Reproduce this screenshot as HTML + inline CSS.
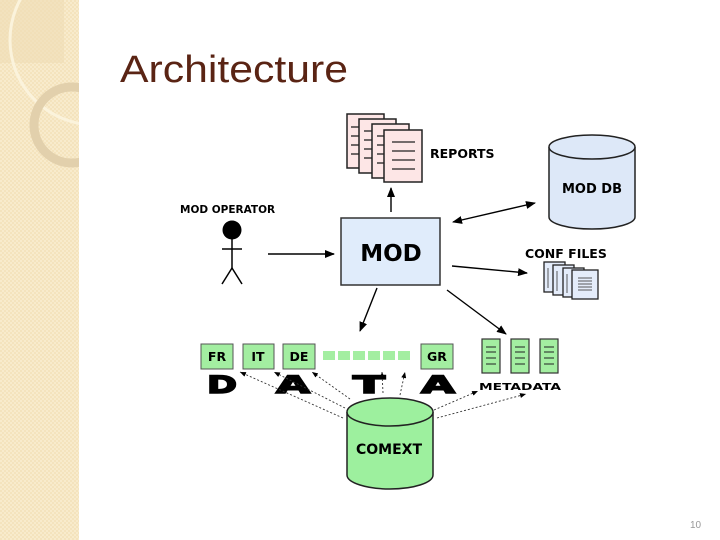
<!DOCTYPE html>
<html><head><meta charset="utf-8"><style>
html,body{margin:0;padding:0;background:#fff;}
svg{display:block;}
text{font-family:"DejaVu Sans","Liberation Sans",sans-serif;font-weight:bold;}
</style></head><body>
<svg width="720" height="540" viewBox="0 0 720 540" xmlns="http://www.w3.org/2000/svg">
<defs>
<pattern id="chk" width="4" height="4" patternUnits="userSpaceOnUse">
<rect width="4" height="4" fill="#f4e3bd"/><rect width="2" height="2" fill="#f8ebcc"/><rect x="2" y="2" width="2" height="2" fill="#f8ebcc"/>
</pattern>
<marker id="ah" markerWidth="10" markerHeight="8" refX="9" refY="4" orient="auto" markerUnits="userSpaceOnUse"><path d="M0,0 L10,4 L0,8 Z" fill="#000"/></marker>
<marker id="ahs" markerWidth="10" markerHeight="8" refX="1" refY="4" orient="auto" markerUnits="userSpaceOnUse"><path d="M10,0 L0,4 L10,8 Z" fill="#000"/></marker>
<marker id="ad" markerWidth="6" markerHeight="5" refX="6" refY="2.5" orient="auto" markerUnits="userSpaceOnUse"><path d="M0,0 L6,2.5 L0,5 Z" fill="#000"/></marker>
<clipPath id="side"><rect width="79" height="540"/></clipPath>
</defs>
<rect x="0" y="0" width="79" height="540" fill="url(#chk)"/>
<g clip-path="url(#side)">
<rect x="0" y="0" width="64" height="63" fill="#efdcb4" opacity="0.6"/>
<circle cx="95" cy="40" r="85" fill="none" stroke="#fbf3dc" stroke-width="3"/>
<circle cx="72" cy="125" r="38" fill="none" stroke="#e2d0ac" stroke-width="9"/>
</g>
<text x="120" y="82" font-size="38" fill="#5a2414" textLength="228" lengthAdjust="spacingAndGlyphs" style="font-family:'Liberation Sans',sans-serif;font-weight:normal">Architecture</text>

<!-- reports -->
<g stroke="#222" stroke-width="1.5" fill="#fde6e6">
<rect x="347" y="114" width="37" height="54"/>
<rect x="359" y="119" width="37" height="54"/>
<rect x="372" y="124" width="37" height="54"/>
<rect x="384" y="130" width="38" height="52"/>
</g>
<g stroke="#222" stroke-width="1.3">
<line x1="351" y1="127" x2="359" y2="127"/><line x1="351" y1="136" x2="359" y2="136"/><line x1="351" y1="145" x2="359" y2="145"/><line x1="351" y1="154" x2="359" y2="154"/>
<line x1="364" y1="131" x2="372" y2="131"/><line x1="364" y1="140" x2="372" y2="140"/><line x1="364" y1="149" x2="372" y2="149"/><line x1="364" y1="158" x2="372" y2="158"/>
<line x1="377" y1="136" x2="384" y2="136"/><line x1="377" y1="145" x2="384" y2="145"/><line x1="377" y1="154" x2="384" y2="154"/><line x1="377" y1="163" x2="384" y2="163"/>
<line x1="392" y1="142" x2="415" y2="142"/><line x1="392" y1="151" x2="415" y2="151"/><line x1="392" y1="160" x2="415" y2="160"/><line x1="392" y1="169" x2="415" y2="169"/>
</g>
<text x="430" y="158" font-size="12.5">REPORTS</text>

<!-- MOD DB -->
<path d="M549,147 L549,217 A43,12 0 0 0 635,217 L635,147" fill="#dde8f8" stroke="#222" stroke-width="1.5"/>
<ellipse cx="592" cy="147" rx="43" ry="12" fill="#dde8f8" stroke="#222" stroke-width="1.5"/>
<text x="592" y="193" font-size="13" text-anchor="middle">MOD DB</text>

<!-- MOD -->
<rect x="341" y="218" width="99" height="67" fill="#e0ecfb" stroke="#333" stroke-width="1.5"/>
<text x="391" y="261" font-size="23" text-anchor="middle">MOD</text>

<!-- operator -->
<text x="180" y="213" font-size="10.5">MOD OPERATOR</text>
<circle cx="232" cy="230" r="9.5" fill="#000"/>
<g stroke="#000" stroke-width="1.5" fill="none">
<line x1="232" y1="238" x2="232" y2="268"/><line x1="222" y1="249" x2="242" y2="249"/>
<polyline points="222,284 232,268 242,284"/>
</g>

<!-- arrows -->
<g stroke="#000" stroke-width="1.4" fill="none">
<line x1="268" y1="254" x2="334" y2="254" marker-end="url(#ah)"/>
<line x1="391" y1="212" x2="391" y2="188" marker-end="url(#ah)"/>
<line x1="453" y1="222" x2="535" y2="203" marker-start="url(#ahs)" marker-end="url(#ah)"/>
<line x1="452" y1="266" x2="527" y2="273" marker-end="url(#ah)"/>
<line x1="377" y1="288" x2="360" y2="331" marker-end="url(#ah)"/>
<line x1="447" y1="290" x2="506" y2="334" marker-end="url(#ah)"/>
</g>

<!-- conf files -->
<text x="525" y="258" font-size="12.5">CONF FILES</text>
<g stroke="#222" stroke-width="1.3" fill="#e4ecfa">
<rect x="544" y="262" width="21" height="30"/>
<rect x="553" y="265" width="21" height="30"/>
<rect x="563" y="268" width="21" height="29"/>
<rect x="572" y="270" width="26" height="29"/>
</g>
<g stroke="#333" stroke-width="0.8">
<line x1="548" y1="268" x2="548" y2="288"/><line x1="557" y1="271" x2="557" y2="291"/><line x1="567" y1="274" x2="567" y2="293"/>
<line x1="578" y1="278" x2="592" y2="278"/><line x1="578" y1="281" x2="592" y2="281"/><line x1="578" y1="284" x2="592" y2="284"/><line x1="578" y1="287" x2="592" y2="287"/><line x1="578" y1="290" x2="592" y2="290"/>
</g>

<!-- data boxes -->
<g fill="#a3eea1" stroke="#555" stroke-width="1">
<rect x="201" y="344" width="32" height="25"/>
<rect x="243" y="344" width="31" height="25"/>
<rect x="283" y="344" width="32" height="25"/>
<rect x="421" y="344" width="32" height="25"/>
</g>
<g fill="#a3eea1">
<rect x="323" y="351" width="12" height="9"/><rect x="338" y="351" width="12" height="9"/><rect x="353" y="351" width="12" height="9"/><rect x="368" y="351" width="12" height="9"/><rect x="383" y="351" width="12" height="9"/><rect x="398" y="351" width="12" height="9"/>
</g>
<g font-size="12.5" text-anchor="middle">
<text x="217" y="361">FR</text><text x="258" y="361">IT</text><text x="299" y="361">DE</text><text x="437" y="361">GR</text>
</g>
<g fill="#a3eea1" stroke="#333" stroke-width="1.2">
<rect x="482" y="339" width="18" height="34"/><rect x="511" y="339" width="18" height="34"/><rect x="540" y="339" width="18" height="34"/>
</g>
<g stroke="#222" stroke-width="1">
<line x1="486" y1="347" x2="496" y2="347"/><line x1="486" y1="352" x2="496" y2="352"/><line x1="486" y1="358" x2="496" y2="358"/><line x1="486" y1="364" x2="496" y2="364"/>
<line x1="515" y1="347" x2="525" y2="347"/><line x1="515" y1="352" x2="525" y2="352"/><line x1="515" y1="358" x2="525" y2="358"/><line x1="515" y1="364" x2="525" y2="364"/>
<line x1="544" y1="347" x2="554" y2="347"/><line x1="544" y1="352" x2="554" y2="352"/><line x1="544" y1="358" x2="554" y2="358"/><line x1="544" y1="364" x2="554" y2="364"/>
</g>
<text x="479" y="390" font-size="10" textLength="82" lengthAdjust="spacingAndGlyphs">METADATA</text>
<g font-size="24" style="font-family:'Liberation Sans',sans-serif;font-weight:900" stroke="#000" stroke-width="1.5">
<text x="207" y="393" textLength="30" lengthAdjust="spacingAndGlyphs">D</text>
<text x="276" y="393" textLength="34" lengthAdjust="spacingAndGlyphs">A</text>
<text x="353" y="393" textLength="32" lengthAdjust="spacingAndGlyphs">T</text>
<text x="421" y="393" textLength="34" lengthAdjust="spacingAndGlyphs">A</text>
</g>

<!-- dotted arrows -->
<g stroke="#333" stroke-width="0.9" stroke-dasharray="2,2" fill="none">
<line x1="343" y1="418" x2="240" y2="372" marker-end="url(#ad)"/>
<line x1="345" y1="408" x2="274" y2="372" marker-end="url(#ad)"/>
<line x1="350" y1="399" x2="312" y2="372" marker-end="url(#ad)"/>
<line x1="383" y1="393" x2="382" y2="372" marker-end="url(#ad)"/>
<line x1="400" y1="395" x2="405" y2="372" marker-end="url(#ad)"/>
<line x1="434" y1="410" x2="478" y2="391" marker-end="url(#ad)"/>
<line x1="437" y1="418" x2="526" y2="394" marker-end="url(#ad)"/>
</g>

<!-- COMEXT -->
<path d="M347,412 L347,475 A43,14 0 0 0 433,475 L433,412" fill="#9df09e" stroke="#222" stroke-width="1.5"/>
<ellipse cx="390" cy="412" rx="43" ry="14" fill="#9df09e" stroke="#222" stroke-width="1.5"/>
<text x="389" y="454" font-size="14" text-anchor="middle">COMEXT</text>

<text x="690" y="528" font-size="10" fill="#999" style="font-family:'Liberation Sans',sans-serif;font-weight:normal">10</text>
</svg>
</body></html>
